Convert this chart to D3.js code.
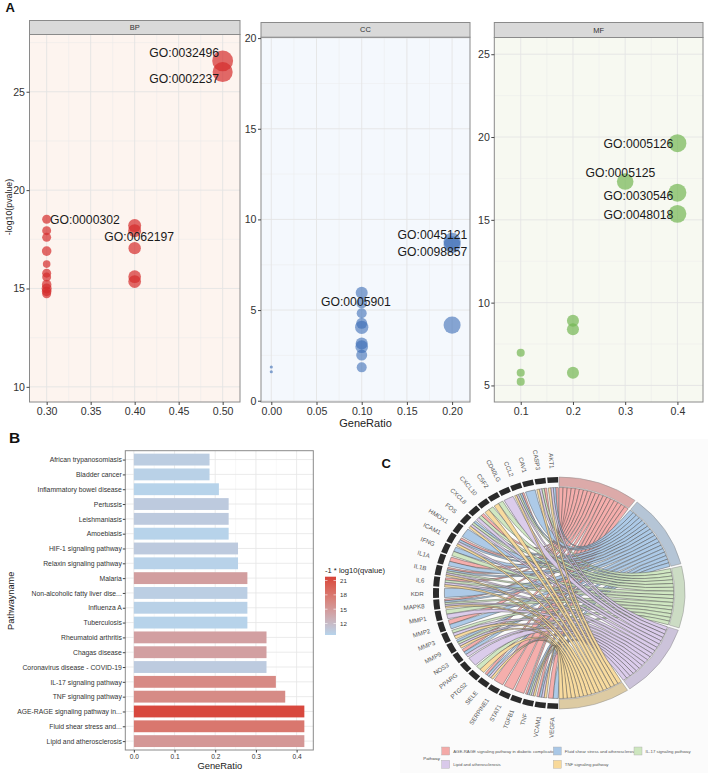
<!DOCTYPE html>
<html><head><meta charset="utf-8">
<script src="https://cdn.jsdelivr.net/npm/d3@7"></script>
<style>body{margin:0;background:#fff;}svg{display:block;font-family:"Liberation Sans",Arial,sans-serif;}</style>
</head><body><svg id="chart" width="708" height="775"></svg>
<script>
// ---------------- DATA ----------------
// Panel A : GO enrichment (BP / CC / MF)
const bpRatio = [0.5,0.5,0.4,0.4,0.4,0.4,0.4,0.3,0.3,0.3,0.3,0.3,0.3,0.3,0.3,0.3,0.3,0.3];
const bpLogP  = [26.57,26.0,18.2,17.94,17.05,15.6,15.35,18.52,17.94,17.6,16.9,16.24,15.78,15.58,15.19,15.0,14.85,14.73];
const bpCount = [27,25,10.5,10.5,9.5,10,10,5,5,5,5.7,3.6,5,5,5.7,6.2,5.7,5];
const bpTerm  = ["GO:0032496","GO:0002237","","GO:0062197","","","","GO:0000302","","","","","","","","","",""];

const ccRatio = [0.2,0.2,0.2,0.1,0.1,0.1,0.1,0.1,0.1,0.1,0.1,0.1,0.0,0.0];
const ccLogP  = [8.8,8.6,4.17,5.95,5.4,4.82,4.27,4.05,3.16,2.98,2.52,1.84,1.86,1.6];
const ccCount = [18,18,18,9,7.5,6.2,7.5,11,9,10,7.5,6.2,0.6,0.6];
const ccTerm  = ["GO:0045121","GO:0098857","","GO:0005901","","","","","","","","","",""];

const mfRatio = [0.4,0.4,0.4,0.3,0.2,0.2,0.2,0.1,0.1,0.1];
const mfLogP  = [19.63,16.64,15.36,17.31,8.91,8.39,5.77,6.98,5.77,5.23];
const mfCount = [20,20,20,17,9,9,9,4,4,4];
const mfTerm  = ["GO:0005126","GO:0030546","GO:0048018","GO:0005125","","","","","",""];

// Panel B : KEGG bar chart
const keggNames = ["African trypanosomiasis","Bladder cancer","Inflammatory bowel disease","Pertussis","Leishmaniasis","Amoebiasis","HIF-1 signaling pathway","Relaxin signaling pathway","Malaria","Non-alcoholic fatty liver dise...","Influenza A","Tuberculosis","Rheumatoid arthritis","Chagas disease","Coronavirus disease - COVID-19","IL-17 signaling pathway","TNF signaling pathway","AGE-RAGE signaling pathway in...","Fluid shear stress and...","Lipid and atherosclerosis"];
const keggRatio = [0.186,0.186,0.209,0.233,0.233,0.233,0.256,0.256,0.279,0.279,0.279,0.279,0.326,0.326,0.326,0.349,0.372,0.419,0.419,0.419];
const keggQ = [10.3,9.9,9.7,10.5,10.5,9.7,10.5,9.8,14.6,10.2,9.9,9.7,14.5,14.5,10.4,16.4,16.3,21.5,18.0,15.2];
const qTicks = [12,15,18,21];
const bTicks = [0,0.1,0.2,0.3,0.4];

// Panel C : GOChord
const chordGenes = ["AKT1","CASP3","CAV1","CCL2","CD40LG","CSF2","CXCL10","CXCL8","FOS","HMOX1","ICAM1","IFNG","IL1A","IL1B","IL6","KDR","MAPK8","MMP1","MMP2","MMP3","MMP9","NOS3","PPARG","PTGS2","SELE","SERPINE1","STAT1","TGFB1","TNF","VCAM1","VEGFA"];
const chordPathways = ["AGE-RAGE signaling pathway in diabetic complications","Fluid shear stress and atherosclerosis","IL-17 signaling pathway","Lipid and atherosclerosis","TNF signaling pathway"];
const ageRageGenes = ["AKT1","CASP3","CCL2","CXCL8","ICAM1","IL1A","IL1B","IL6","MAPK8","MMP2","NOS3","SELE","SERPINE1","STAT1","TGFB1","TNF","VCAM1","VEGFA"];
const fluidGenes   = ["AKT1","CAV1","CCL2","FOS","HMOX1","ICAM1","IFNG","IL1A","IL1B","KDR","MAPK8","MMP2","MMP9","NOS3","SELE","TNF","VCAM1","VEGFA"];
const il17Genes    = ["CASP3","CCL2","CSF2","CXCL10","CXCL8","FOS","IFNG","IL1B","IL6","MAPK8","MMP1","MMP3","MMP9","PTGS2","TNF"];
const lipidGenes   = ["AKT1","CASP3","CCL2","CD40LG","CXCL8","FOS","ICAM1","IL1B","IL6","MAPK8","MMP1","MMP3","MMP9","NOS3","PPARG","SELE","TNF","VCAM1"];
const tnfGenes     = ["AKT1","CASP3","CCL2","CSF2","CXCL10","FOS","ICAM1","IL1B","IL6","MAPK8","MMP3","MMP9","PTGS2","SELE","TNF","VCAM1"];

// ---------------- DRAWING ----------------
const svg = d3.select("#chart");
const FONT = "'Liberation Sans', Arial, sans-serif";

svg.append("text").text("A").attr("x",5.5).attr("y",12).attr("font-size",13).attr("font-weight","bold").attr("fill","#111");
svg.append("text").text("B").attr("x",9).attr("y",443.3).attr("font-size",15.5).attr("font-weight","bold").attr("fill","#111");

const rScale = d3.scaleSqrt().domain([0,30]).range([0,11]);

const labelPos = {
  "GO:0032496":{dx:-3.5,dy:-7.4,a:"end"},
  "GO:0002237":{dx:-3.5,dy:7.3,a:"end"},
  "GO:0000302":{dx:3.3,dy:0.7,a:"start"},
  "GO:0062197":{dx:4.6,dy:6.3,a:"middle"},
  "GO:0045121":{dx:-19.6,dy:-6,a:"middle"},
  "GO:0098857":{dx:-19.6,dy:7,a:"middle"},
  "GO:0005901":{dx:-5.8,dy:9,a:"middle"},
  "GO:0005126":{dx:-4,dy:0.7,a:"end"},
  "GO:0005125":{dx:-4.8,dy:-8.4,a:"middle"},
  "GO:0030546":{dx:-4,dy:3,a:"end"},
  "GO:0048018":{dx:-4,dy:1,a:"end"}
};

function facet(c){
  const g = svg.append("g");
  const xs = d3.scaleLinear().domain(c.xd).range([c.x0,c.x1]);
  const ys = d3.scaleLinear().domain(c.yd).range([c.bottom,c.sb]);
  g.append("rect").attr("x",c.x0).attr("y",c.sb).attr("width",c.x1-c.x0).attr("height",c.bottom-c.sb).attr("fill",c.bg);
  c.xminor.forEach(v=>g.append("line").attr("x1",xs(v)).attr("x2",xs(v)).attr("y1",c.sb).attr("y2",c.bottom).attr("stroke","#ebebeb").attr("stroke-width",0.5));
  c.yminor.forEach(v=>g.append("line").attr("y1",ys(v)).attr("y2",ys(v)).attr("x1",c.x0).attr("x2",c.x1).attr("stroke","#ebebeb").attr("stroke-width",0.5));
  c.xt.forEach(v=>g.append("line").attr("x1",xs(v)).attr("x2",xs(v)).attr("y1",c.sb).attr("y2",c.bottom).attr("stroke","#e4e4e4").attr("stroke-width",0.9));
  c.yt.forEach(v=>g.append("line").attr("y1",ys(v)).attr("y2",ys(v)).attr("x1",c.x0).attr("x2",c.x1).attr("stroke","#e4e4e4").attr("stroke-width",0.9));
  c.ratio.forEach((r,i)=>{
    g.append("circle").attr("cx",xs(r)).attr("cy",ys(c.logp[i])).attr("r",rScale(c.count[i]))
      .attr("fill",c.col).attr("fill-opacity",c.op);
  });
  c.terms.forEach((t,i)=>{
    if(!t) return;
    const p = labelPos[t];
    g.append("text").text(t).attr("x",xs(c.ratio[i])+p.dx).attr("y",ys(c.logp[i])+p.dy)
      .attr("text-anchor",p.a).attr("dominant-baseline","central").attr("font-size",12.2).attr("fill","#1a1a1a");
  });
  g.append("rect").attr("x",c.x0).attr("y",c.sb).attr("width",c.x1-c.x0).attr("height",c.bottom-c.sb).attr("fill","none").attr("stroke","#8a8a8a").attr("stroke-width",1);
  g.append("rect").attr("x",c.x0).attr("y",c.st).attr("width",c.x1-c.x0).attr("height",c.sb-c.st).attr("fill","#d9d9d9").attr("stroke","#8a8a8a").attr("stroke-width",1);
  g.append("text").text(c.name).attr("x",(c.x0+c.x1)/2).attr("y",(c.st+c.sb)/2).attr("text-anchor","middle").attr("dominant-baseline","central").attr("font-size",7.5).attr("fill","#333");
  const ay = g.append("g").attr("transform",`translate(${c.x0},0)`).call(d3.axisLeft(ys).tickValues(c.yt).tickSize(3).tickFormat(d3.format("d")));
  const ax = g.append("g").attr("transform",`translate(0,${c.bottom})`).call(d3.axisBottom(xs).tickValues(c.xt).tickSize(3).tickFormat(d3.format(c.fmt)));
  [ay,ax].forEach(a=>{
    a.select(".domain").remove();
    a.selectAll(".tick line").attr("stroke","#444");
    a.selectAll(".tick text").attr("font-size",10.6).attr("fill","#333").attr("font-family",FONT);
  });
  ay.selectAll(".tick text").attr("x",-4.5);
  ax.selectAll(".tick text").attr("y",5);
}

facet({name:"BP",x0:29.5,x1:240,st:20.5,sb:34.5,bottom:402,xd:[0.2805,0.5197],yd:[9.23,27.91],
  xt:[0.30,0.35,0.40,0.45,0.50],yt:[10,15,20,25],xminor:[0.325,0.375,0.425,0.475],yminor:[12.5,17.5,22.5,27.5],
  bg:"#fdf4ef",col:"#d42c2c",op:0.7,ratio:bpRatio,logp:bpLogP,count:bpCount,terms:bpTerm,fmt:".2f"});
facet({name:"CC",x0:261,x1:470,st:22.5,sb:37.2,bottom:402,xd:[-0.0114,0.2198],yd:[-0.07,20.05],
  xt:[0,0.05,0.10,0.15,0.20],yt:[0,5,10,15,20],xminor:[0.025,0.075,0.125,0.175],yminor:[2.5,7.5,12.5,17.5],
  bg:"#f4f8fd",col:"#3a6db5",op:0.6,ratio:ccRatio,logp:ccLogP,count:ccCount,terms:ccTerm,fmt:".2f"});
facet({name:"MF",x0:494.3,x1:703,st:22.5,sb:37.5,bottom:402,xd:[0.0494,0.449],yd:[4.0,26.01],
  xt:[0.1,0.2,0.3,0.4],yt:[5,10,15,20,25],xminor:[0.15,0.25,0.35],yminor:[7.5,12.5,17.5,22.5],
  bg:"#f7f9f1",col:"#74b652",op:0.7,ratio:mfRatio,logp:mfLogP,count:mfCount,terms:mfTerm,fmt:".1f"});

svg.append("text").text("-log10(pvalue)").attr("transform","translate(8.5,207) rotate(-90)").attr("text-anchor","middle").attr("dominant-baseline","central").attr("font-size",8.8).attr("fill","#222");
svg.append("text").text("GeneRatio").attr("x",365.5).attr("y",423).attr("text-anchor","middle").attr("dominant-baseline","central").attr("font-size",11).attr("fill","#222");

// ---------------- Panel B ----------------
(function(){
  const g = svg.append("g");
  const L=125.3,R=313.3,T=450.7,B=750;
  const bx = d3.scaleLinear().domain([-0.021,0.441]).range([L,R]);
  const by = d3.scalePoint().domain(keggNames).range([T,B]).padding(0.6);
  const step = by.step();
  const col = d3.scaleLinear().domain([9.6,21.8]).range(["#b6d4ec","#d8433a"]).interpolate(d3.interpolateLab);
  g.append("rect").attr("x",L).attr("y",T).attr("width",R-L).attr("height",B-T).attr("fill","#fff");
  [0.05,0.15,0.25,0.35].forEach(v=>g.append("line").attr("x1",bx(v)).attr("x2",bx(v)).attr("y1",T).attr("y2",B).attr("stroke","#f0f0f0").attr("stroke-width",0.5));
  bTicks.forEach(v=>g.append("line").attr("x1",bx(v)).attr("x2",bx(v)).attr("y1",T).attr("y2",B).attr("stroke","#e6e6e6").attr("stroke-width",0.8));
  keggNames.forEach(n=>g.append("line").attr("x1",L).attr("x2",R).attr("y1",by(n)).attr("y2",by(n)).attr("stroke","#e6e6e6").attr("stroke-width",0.8));
  keggNames.forEach((n,i)=>{
    g.append("rect").attr("x",bx(0)).attr("y",by(n)-step*0.4).attr("width",bx(keggRatio[i])-bx(0)).attr("height",step*0.8)
      .attr("fill",col(keggQ[i]));
  });
  g.append("rect").attr("x",L).attr("y",T).attr("width",R-L).attr("height",B-T).attr("fill","none").attr("stroke","#8a8a8a").attr("stroke-width",1);
  const ay = g.append("g").attr("transform",`translate(${L},0)`).call(d3.axisLeft(by).tickSize(2.5));
  const ax = g.append("g").attr("transform",`translate(0,${B})`).call(d3.axisBottom(bx).tickValues(bTicks).tickSize(2.5).tickFormat(d3.format(".1f")));
  [ay,ax].forEach(a=>{
    a.select(".domain").remove();
    a.selectAll(".tick line").attr("stroke","#444");
    a.selectAll(".tick text").attr("fill","#333").attr("font-family",FONT);
  });
  ay.selectAll(".tick text").attr("font-size",6.8).attr("x",-3.5);
  ax.selectAll(".tick text").attr("font-size",6.6).attr("y",4);
  svg.append("text").text("GeneRatio").attr("x",219.8).attr("y",765.7).attr("text-anchor","middle").attr("dominant-baseline","central").attr("font-size",9.4).attr("fill","#222");
  svg.append("text").text("Pathwayname").attr("transform","translate(11,600.8) rotate(-90)").attr("text-anchor","middle").attr("dominant-baseline","central").attr("font-size",9.2).attr("fill","#222");
  const defs = svg.append("defs");
  const lg = defs.append("linearGradient").attr("id","qgrad").attr("x1",0).attr("y1",1).attr("x2",0).attr("y2",0);
  d3.range(0,1.0001,0.1).forEach(t=>lg.append("stop").attr("offset",t).attr("stop-color",col(9.6+t*(21.8-9.6))));
  const ly = d3.scaleLinear().domain([9.6,21.8]).range([635,576.7]);
  svg.append("text").text("-1 * log10(qvalue)").attr("x",325).attr("y",570).attr("dominant-baseline","central").attr("font-size",7.6).attr("fill","#222");
  svg.append("rect").attr("x",325).attr("y",576.7).attr("width",11).attr("height",635-576.7).attr("fill","url(#qgrad)");
  qTicks.forEach(v=>{
    svg.append("line").attr("x1",325).attr("x2",327.5).attr("y1",ly(v)).attr("y2",ly(v)).attr("stroke","#fff").attr("stroke-width",0.6);
    svg.append("line").attr("x1",333.5).attr("x2",336).attr("y1",ly(v)).attr("y2",ly(v)).attr("stroke","#fff").attr("stroke-width",0.6);
    svg.append("text").text(v).attr("x",340).attr("y",ly(v)).attr("dominant-baseline","central").attr("font-size",6.2).attr("fill","#333");
  });
})();

// ---------------- Panel C ----------------
(function(){
  svg.append("rect").attr("x",400).attr("y",439).attr("width",308).attr("height",334).attr("fill","#fbfbfb");
  svg.append("text").text("C").attr("x",381.5).attr("y",467.7).attr("font-size",13).attr("font-weight","bold").attr("fill","#111");
  const cx=559, cy=593, Rr=116, sx=126/116;
  const memberLists=[ageRageGenes,fluidGenes,il17Genes,lipidGenes,tnfGenes];
  const ribbonFill=["#f4aaa8","#a9c7e6","#cde6bf","#d9c9ea","#f8d99a"];
  const arcFill=["#dcaaa9","#b5c5d6","#ccdcc4","#ccc3da","#ddcba3"];
  const g = svg.append("g").attr("transform",`translate(${cx},${cy}) scale(${sx},1)`);
  const TAU=Math.PI*2, deg=Math.PI/180;
  const gStep=Math.PI/chordGenes.length, gGap=0.8*deg;
  const geneSpan = chordGenes.map((n,i)=>({s:TAU-(i+1)*gStep+gGap/2, e:TAU-i*gStep-gGap/2}));
  const total = d3.sum(memberLists,l=>l.length);
  const tGap=1.2*deg, per=(Math.PI-4*tGap)/total;
  let st=0;
  const termSpan = memberLists.map(l=>{const o={s:st,e:st+l.length*per}; st=o.e+tGap; return o;});
  const ribbon = d3.ribbon().radius(105.5);
  const ribbons=[];
  memberLists.forEach((list,j)=>{
    const sorted = chordGenes.filter(gn=>list.includes(gn));
    sorted.forEach((gn,m)=>{
      const gi = chordGenes.indexOf(gn);
      const terms = memberLists.map((l,k)=>l.includes(gn)?k:-1).filter(k=>k>=0);
      const k = terms.indexOf(j), w=(geneSpan[gi].e-geneSpan[gi].s)/terms.length;
      const e=geneSpan[gi].e;
      ribbons.push({j, source:{startAngle:e-(k+1)*w,endAngle:e-k*w},
        target:{startAngle:termSpan[j].s+m*per,endAngle:termSpan[j].s+(m+1)*per}});
    });
  });
  g.selectAll("path.rib").data(ribbons).join("path").attr("class","rib")
    .attr("d",d=>ribbon(d)).attr("fill",d=>ribbonFill[d.j]).attr("fill-opacity",0.95)
    .attr("stroke","#4d4d4d").attr("stroke-width",0.45).attr("vector-effect","non-scaling-stroke");
  const geneArc=d3.arc().innerRadius(110.5).outerRadius(Rr);
  g.selectAll("path.gb").data(geneSpan).join("path").attr("class","gb")
    .attr("d",d=>geneArc({startAngle:d.s,endAngle:d.e})).attr("fill","#2b2b2b");
  const termArc=d3.arc().innerRadius(106.5).outerRadius(Rr);
  g.selectAll("path.tb").data(termSpan).join("path").attr("class","tb")
    .attr("d",d=>termArc({startAngle:d.s,endAngle:d.e})).attr("fill",(d,i)=>arcFill[i])
    .attr("stroke","#8f8f8f").attr("stroke-width",0.5).attr("vector-effect","non-scaling-stroke");
  chordGenes.forEach((n,i)=>{
    const a=(geneSpan[i].s+geneSpan[i].e)/2, rr=Rr+8.5;
    const x=cx+Math.sin(a)*rr*sx, y=cy-Math.cos(a)*rr;
    const rot=Math.atan2(-Math.cos(a),Math.sin(a)*sx)/deg+180;
    svg.append("text").text(n).attr("transform",`translate(${x},${y}) rotate(${rot})`)
      .attr("text-anchor","end").attr("dominant-baseline","central").attr("font-size",6.2).attr("fill","#555");
  });
  svg.append("text").text("Pathway").attr("x",423.3).attr("y",758.3).attr("dominant-baseline","central").attr("font-size",4.3).attr("fill","#444");
  const legPos=[[441.7,747],[553.3,747],[634,747],[441.7,760.3],[553.3,760.3]];
  chordPathways.forEach((p,i)=>{
    const [lx,ly]=legPos[i];
    svg.append("rect").attr("x",lx).attr("y",ly).attr("width",8).attr("height",8).attr("fill",ribbonFill[i]).attr("stroke","#aaa").attr("stroke-width",0.4);
    svg.append("text").text(p).attr("x",lx+11.5).attr("y",ly+4).attr("dominant-baseline","central").attr("font-size",4.3).attr("fill","#555");
  });
})();
</script></body></html>
